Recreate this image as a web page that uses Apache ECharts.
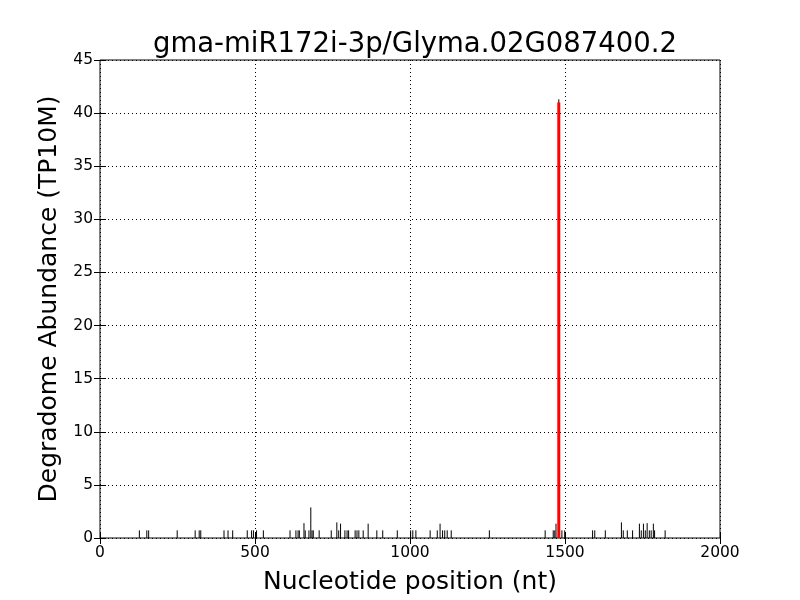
<!DOCTYPE html>
<html><head><meta charset="utf-8">
<script src="https://cdn.jsdelivr.net/npm/echarts@6/dist/echarts.min.js"></script>
<style>html,body{margin:0;padding:0;background:#fff}#c{width:800px;height:600px}</style>
</head><body><div id="c"></div>
<script>
const titleText = "gma-miR172i-3p/Glyma.02G087400.2";
const xTicks = [0, 500, 1000, 1500, 2000];
const yTicks = [0, 5, 10, 15, 20, 25, 30, 35, 40, 45];
const positions = [127,151,157,249,307,320,325,400,413,428,475,489,495,505,527,613,632,639,643,658,662,674,680,684,688,707,746,764,770,776,790,797,802,823,829,835,849,865,893,912,959,1002,1009,1019,1065,1088,1097,1105,1112,1120,1133,1256,1436,1462,1467,1471,1480,1490,1499,1589,1596,1630,1682,1688,1701,1718,1740,1746,1753,1759,1765,1772,1778,1785,1789,1823];
const abundance = [0.72,0.72,0.72,0.72,0.72,0.72,0.72,0.72,0.72,0.72,0.72,0.72,0.72,0.72,0.72,0.72,0.72,0.72,0.72,1.4,0.72,0.72,2.88,0.72,0.72,0.72,0.72,1.47,0.72,1.35,0.72,0.72,0.72,0.72,0.72,0.72,0.72,1.35,0.72,0.72,0.72,0.72,0.72,0.72,0.72,0.72,1.35,0.72,0.72,0.72,0.72,0.72,0.72,0.72,0.72,1.35,41.3,0.72,0.72,0.72,0.72,0.72,1.47,0.72,0.72,0.72,1.35,0.72,1.35,0.72,1.4,0.72,0.72,1.35,0.72,0.72];
const sitePosition = [1480];
const siteAbundance = [41];

const chart = echarts.init(document.getElementById('c'), null, {renderer: 'canvas'});
const F = 'DejaVu Sans';
function lineItem(color, width) {
  return function (params, api) {
    const p0 = api.coord([api.value(0), 0]);
    const p1 = api.coord([api.value(0), api.value(1)]);
    return {type: 'line', shape: {x1: p0[0], y1: p0[1], x2: p1[0], y2: p1[1]},
      style: {stroke: color, lineWidth: width}};
  };
}
const axisCommon = {
  axisLine: {show: false},
  axisTick: {show: true, inside: true, length: 6, lineStyle: {color: '#000'}},
  splitLine: {show: true, lineStyle: {color: '#000', type: [1, 3], width: 1}},
  axisLabel: {color: '#000', fontFamily: F, fontSize: 15.5}
};
chart.setOption({
  animation: false,
  backgroundColor: '#fff',
  title: {text: titleText, left: 410, textAlign: 'center', top: 26,
    textStyle: {fontFamily: F, fontSize: 27.5, fontWeight: 'normal', color: '#000'}},
  grid: {left: 100, right: 80, top: 60, bottom: 60, show: true, borderColor: '#000', borderWidth: 1, backgroundColor: 'transparent'},
  xAxis: [Object.assign({type: 'value', min: 0, max: 2000, interval: 500,
    name: 'Nucleotide position (nt)', nameLocation: 'middle', nameGap: 32,
    nameTextStyle: {fontFamily: F, fontSize: 25, color: '#000'}}, axisCommon,
    {axisLabel: Object.assign({}, axisCommon.axisLabel, {margin: 7, formatter: v => xTicks.includes(v) ? String(v) : ''})}),
    {type: 'value', position: 'top', min: 0, max: 2000, interval: 500, axisLine: {show: false},
     axisTick: {show: true, inside: true, length: 6, lineStyle: {color: '#000'}}, axisLabel: {show: false}, splitLine: {show: false}}],
  yAxis: [Object.assign({type: 'value', min: 0, max: 45, interval: 5,
    name: 'Degradome Abundance (TP10M)', nameLocation: 'middle', nameGap: 34,
    nameTextStyle: {fontFamily: F, fontSize: 25, color: '#000'}}, axisCommon,
    {axisLabel: Object.assign({}, axisCommon.axisLabel, {margin: 7, formatter: v => yTicks.includes(v) ? String(v) : ''})}),
    {type: 'value', position: 'right', min: 0, max: 45, interval: 5, axisLine: {show: false},
     axisTick: {show: true, inside: true, length: 6, lineStyle: {color: '#000'}}, axisLabel: {show: false}, splitLine: {show: false}}],
  series: [
    {type: 'custom', renderItem: lineItem('#000', 1), data: positions.map((p, i) => [p, abundance[i]]), z: 2},
    {type: 'custom', renderItem: lineItem('#ff0000', 3), data: sitePosition.map((p, i) => [p, siteAbundance[i]]), z: 3}
  ]
});
</script></body></html>
